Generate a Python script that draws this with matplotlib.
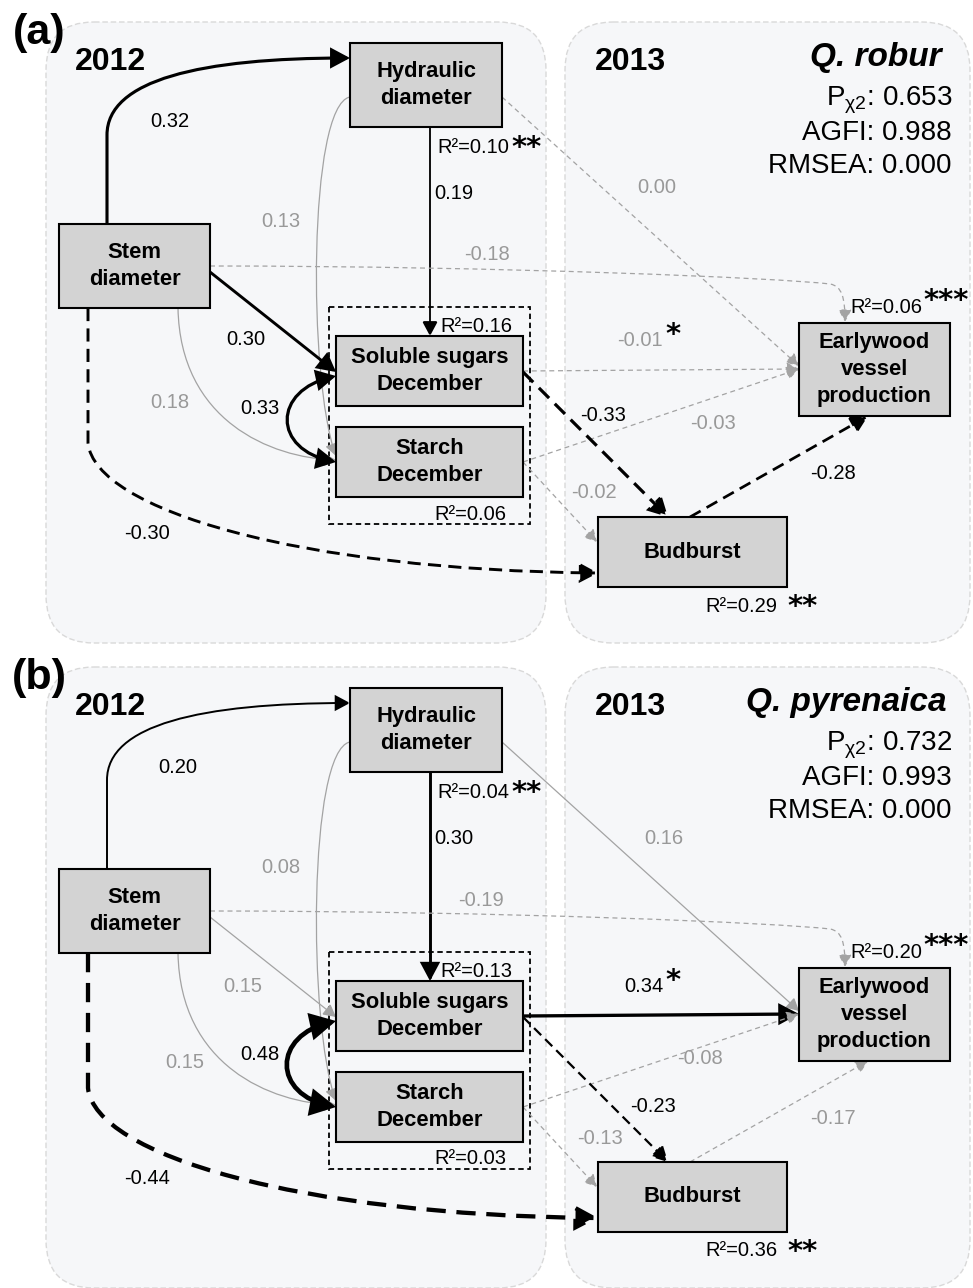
import matplotlib.pyplot as plt
from matplotlib.patches import FancyArrowPatch, FancyBboxPatch, Rectangle
from matplotlib.path import Path

plt.rcParams['font.family'] = ['Liberation Sans', 'DejaVu Sans']

# ---------------- data ----------------
panel_tags = ['(a)', '(b)']
species = ['Q. robur', 'Q. pyrenaica']
years = ['2012', '2013']

nodes = ['stem', 'hyd', 'sug', 'sta', 'early', 'bud']
node_labels = ['Stem\ndiameter', 'Hydraulic\ndiameter', 'Soluble sugars\nDecember',
               'Starch\nDecember', 'Earlywood\nvessel\nproduction', 'Budburst']

# paths (from -> to); sug<->sta is the covariance
path_from = ['stem', 'hyd', 'hyd', 'stem', 'stem', 'sug', 'stem', 'stem', 'hyd', 'sug', 'sta', 'sug', 'sta', 'bud']
path_to = ['hyd', 'sug', 'sta', 'sug', 'sta', 'sta', 'bud', 'early', 'early', 'early', 'early', 'bud', 'bud', 'early']

coef_robur = [0.32, 0.19, 0.13, 0.30, 0.18, 0.33, -0.30, -0.18, -0.00, -0.01, -0.03, -0.33, -0.02, -0.28]
sig_robur = [1, 1, 0, 1, 0, 1, 1, 0, 0, 0, 0, 1, 0, 1]
star_robur = ['', '', '', '', '', '', '', '', '', '*', '', '', '', '']

coef_pyr = [0.20, 0.30, 0.08, 0.15, 0.15, 0.48, -0.44, -0.19, 0.16, 0.34, -0.08, -0.23, -0.13, -0.17]
sig_pyr = [1, 1, 0, 0, 0, 1, 1, 0, 0, 1, 0, 1, 0, 0]
star_pyr = ['', '', '', '', '', '', '', '', '', '*', '', '', '', '']

r2_nodes = ['hyd', 'sug', 'sta', 'early', 'bud']
r2_robur = [0.10, 0.16, 0.06, 0.06, 0.29]
r2_star_robur = ['**', '', '', '***', '**']
r2_pyr = [0.04, 0.13, 0.03, 0.20, 0.36]
r2_star_pyr = ['**', '', '', '***', '**']

fit_names = ['P$_{\\mathregular{χ2}}$', 'AGFI', 'RMSEA']
fit_robur = [0.653, 0.988, 0.000]
fit_pyr = [0.732, 0.993, 0.000]

# ---------------- layout (pixels, panel (a) frame) ----------------
boxes = {'stem': (59, 224, 210, 308), 'hyd': (350, 43, 502, 127),
         'sug': (336, 336, 523, 406), 'sta': (336, 427, 523, 497),
         'early': (799, 323, 950, 416), 'bud': (598, 517, 787, 587)}

shapes = [
    "M 107 224 L 107 135 C 107 80 200 58 350 58",
    "M 430 127 L 430 336",
    "M 350 97 C 308 105 308 380 336 456",
    "M 210 272 L 336 372",
    "M 178 308 C 180 420 270 458 336 460",
    "M 336 376 C 272 390 272 450 336 462",
    "M 88 308 L 88 443 C 95 510 300 570 598 573",
    "M 210 266 C 500 266 780 278 830 284 C 842 286 845 298 845 322",
    "M 502 97 L 799 366",
    "M 523 371 L 799 369",
    "M 523 462 L 799 369",
    "M 523 372 L 668 517",
    "M 523 462 L 597 542",
    "M 690 517 L 868 416",
]

label_pos = [
    [(170, 121), (454, 193), (281, 221), (246, 339), (170, 402), (260, 408), (147, 533),
     (487, 254), (657, 187), (640, 340), (713, 423), (603, 415), (594, 492), (833, 473)],
    [(178, 122), (454, 193), (281, 222), (243, 341), (185, 418), (260, 410), (147, 533),
     (481, 255), (664, 193), (644, 341), (700, 414), (653, 461), (600, 494), (833, 474)],
]
r2_pos = {'hyd': (473, 147), 'sug': (476, 326), 'sta': (470, 514), 'early': (886, 307), 'bud': (741, 606)}
r2_star_pos = {'hyd': (511, 156), 'early': (923, 309), 'bud': (787, 615)}

GRAY = '#a3a3a3'
GRAYTXT = '#999999'


def make_path(spec, dy):
    tok = spec.split()
    verts, codes = [], []
    i = 0
    while i < len(tok):
        c = tok[i]
        if c in 'ML':
            verts.append((float(tok[i + 1]), float(tok[i + 2]) + dy))
            codes.append(Path.MOVETO if c == 'M' else Path.LINETO)
            i += 3
        else:
            for k in range(3):
                verts.append((float(tok[i + 1 + 2 * k]), float(tok[i + 2 + 2 * k]) + dy))
                codes.append(Path.CURVE4)
            i += 7
    return Path(verts, codes)


fig = plt.figure(figsize=(9.73, 12.88), dpi=100)
ax = fig.add_axes([0, 0, 1, 1])
ax.set_xlim(0, 973)
ax.set_ylim(1288, 0)
ax.axis('off')

panel_data = [(coef_robur, sig_robur, star_robur, r2_robur, r2_star_robur, fit_robur),
              (coef_pyr, sig_pyr, star_pyr, r2_pyr, r2_star_pyr, fit_pyr)]

for p, dy in enumerate([0, 645]):
    coef, sig, star, r2, r2star, fit = panel_data[p]

    # background year panels
    for x0, x1 in [(46, 546), (565, 970)]:
        ax.add_patch(FancyBboxPatch((x0, 22 + dy), x1 - x0, 621, boxstyle='round,pad=0,rounding_size=48',
                                    fc='#f6f7f9', ec='#d9d9d9', lw=1, ls=(0, (4, 2)), zorder=0))
    ax.text(39, 33 + dy, panel_tags[p], fontsize=31, fontweight='bold', ha='center', va='center')
    ax.text(110, 62 + dy, years[0], fontsize=23, fontweight='bold', ha='center', va='center')
    ax.text(630, 62 + dy, years[1], fontsize=23, fontweight='bold', ha='center', va='center')
    ax.text([942, 947][p], 57 + dy, species[p], fontsize=24, fontweight='bold', style='italic',
            ha='right', va='center')
    for k, (nm, v) in enumerate(zip(fit_names, fit)):
        ax.text(952, 100 + 33 * k + dy, f'{nm}: {v:.3f}', fontsize=20, ha='right', va='center')

    # carbohydrate group box
    ax.add_patch(Rectangle((329, 307 + dy), 201, 217, fill=False, ec='black', lw=1.3,
                           ls=(0, (3, 2)), zorder=1))

    # paths
    for i in range(len(coef)):
        c = coef[i]
        if sig[i]:
            col, lw, ms = 'black', max(1.2, 7.0 * abs(c)), 12 + 38 * abs(c)
        else:
            col, lw, ms = GRAY, 0.9, 17
        ls = '-' if c > 0 else ((0, (4.5, 2.5)) if sig[i] else (0, (4, 3)))
        astyle = '<|-|>' if path_from[i] == 'sug' and path_to[i] == 'sta' else '-|>'
        arr = FancyArrowPatch(path=make_path(shapes[i], dy),
                              arrowstyle=f'{astyle},head_length=0.45,head_width=0.24',
                              mutation_scale=ms, color=col, lw=lw, linestyle=ls, zorder=2,
                              capstyle='butt', joinstyle='miter')
        ax.add_patch(arr)
        lx, ly = label_pos[p][i]
        ax.text(lx, ly + dy, f'{c:.2f}'.replace('-0.00', '0.00'), fontsize=14.5,
                color='black' if sig[i] else GRAYTXT, ha='center', va='center', zorder=5)
        if star[i]:
            ax.text(665, 343 + dy if p == 0 else 344 + dy, star[i], family='DejaVu Sans',
                    fontsize=21, fontweight='bold', ha='left', va='baseline', zorder=5)

    # nodes
    for n, lab in zip(nodes, node_labels):
        x0, y0, x1, y1 = boxes[n]
        ax.add_patch(Rectangle((x0, y0 + dy), x1 - x0, y1 - y0, fc='#d3d3d3', ec='black',
                               lw=1.5, zorder=3))
        ax.text((x0 + x1) / 2, (y0 + y1) / 2 + dy, lab, fontsize=15.8, fontweight='bold',
                ha='center', va='center', linespacing=1.35, zorder=4)

    # R2 values
    for n, v, s in zip(r2_nodes, r2, r2star):
        x, y = r2_pos[n]
        ax.text(x, y + dy, f'R²={v:.2f}', fontsize=14.5, ha='center', va='center', zorder=5)
        if s:
            sx, sy = r2_star_pos[n]
            ax.text(sx, sy + dy, s, family='DejaVu Sans', fontsize=21, fontweight='bold',
                    ha='left', va='baseline', zorder=5)

fig.savefig('out.png', dpi=100)
